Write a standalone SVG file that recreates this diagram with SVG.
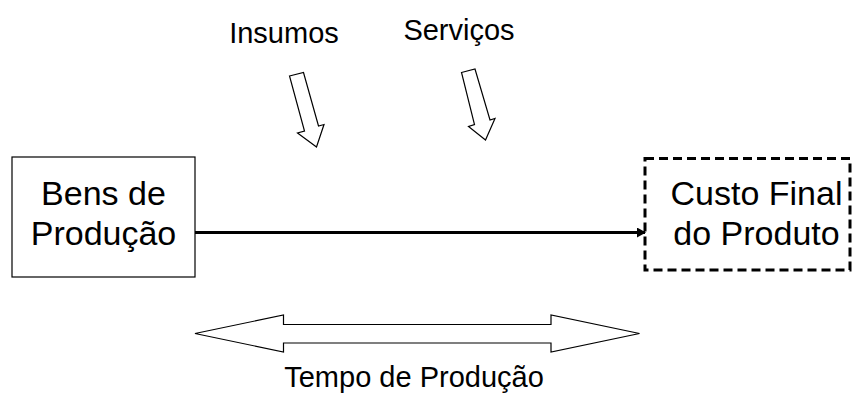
<svg xmlns="http://www.w3.org/2000/svg" width="856" height="394" viewBox="0 0 856 394">
<style>
text { font-family: "Liberation Sans", Arial, sans-serif; fill: #000; }
.big { font-size: 34px; }
.mid { font-size: 29px; }
.outline { fill: #fff; stroke: #000; stroke-width: 1.2; stroke-linejoin: miter; }
</style>
<defs>
<marker id="ah" markerWidth="10" markerHeight="10" refX="8" refY="5" orient="auto" markerUnits="userSpaceOnUse">
<path d="M0,0 L9,5 L0,10 Z" fill="#000"/>
</marker>
</defs>
<rect width="856" height="394" fill="#fff"/>
<g id="bens">
<rect x="12" y="157" width="183" height="120" fill="#fff" stroke="#000" stroke-width="1.2"/>
<text class="big" x="103.5" y="205" text-anchor="middle">Bens de</text>
<text class="big" x="103.5" y="245" text-anchor="middle">Produção</text>
</g>
<g id="custo">
<rect x="645" y="158.5" width="205" height="111.5" fill="#fff" stroke="#000" stroke-width="3" stroke-dasharray="9 5"/>
<text class="big" x="756.5" y="205" text-anchor="middle">Custo Final</text>
<text class="big" x="756.5" y="245" text-anchor="middle">do Produto</text>
</g>
<g id="insumos">
<text class="mid" x="284" y="43" text-anchor="middle">Insumos</text>
</g>
<g id="servicos">
<text class="mid" x="459" y="40" text-anchor="middle">Serviços</text>
</g>
<g id="tempo">
<polygon class="outline" points="195,333.5 283.5,315 283.5,324.5 551,324.5 551,315 639.5,333.5 551,352 551,343 283.5,343 283.5,352"/>
<text class="mid" x="414" y="387" text-anchor="middle">Tempo de Produção</text>
</g>
<g id="connectors">
<polygon class="outline" points="289.5,76 303.5,72.5 318.5,126 324,124.5 316.5,147 297.5,133 304.5,131"/>
<polygon class="outline" points="461.5,72.5 475,69 490,120 495,118.5 485.5,140 468.5,126.5 474.5,124.5"/>
<line x1="195" y1="232.5" x2="645" y2="232.5" stroke="#000" stroke-width="3.2" marker-end="url(#ah)"/>
</g>
</svg>
